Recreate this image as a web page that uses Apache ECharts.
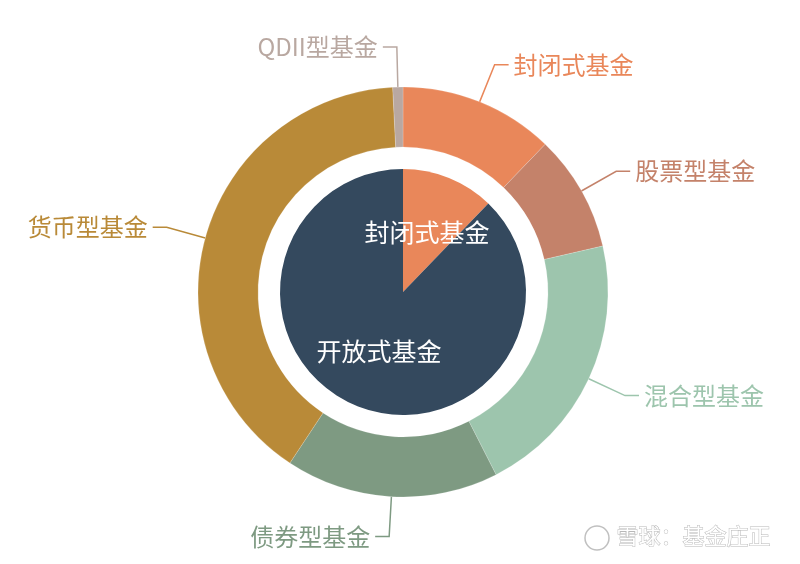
<!DOCTYPE html>
<html>
<head>
<meta charset="utf-8">
<script src="https://cdn.jsdelivr.net/npm/echarts@6/dist/echarts.min.js"></script>
<style>
html,body{margin:0;padding:0;background:#fff;}
#main{width:800px;height:564px;}
</style>
</head>
<body>
<div id="main"></div>
<script>
var innerNames = ['封闭式基金', '开放式基金'];
var innerValues = [12.2, 87.8];
var innerColors = ['#e9875a', '#34495e'];

var outerNames = ['封闭式基金', '股票型基金', '混合型基金', '债券型基金', '货币型基金', 'QDII型基金'];
var outerValues = [12.2, 9.2, 21.1, 16.8, 39.9, 0.8];
var outerColors = ['#e9875a', '#c4826a', '#9dc5ad', '#7e9a82', '#b98a38', '#b9a8a1'];

var watermark = '雪球：基金庄正';

var chart = echarts.init(document.getElementById('main'));
var font = '"Noto Sans CJK SC", "Noto Sans", sans-serif';

chart.setOption({
  backgroundColor: '#ffffff',
  animation: false,
  series: [
    {
      type: 'pie',
      center: [403, 292],
      radius: [0, 123],
      startAngle: 90,
      clockwise: true,
      silent: true,
      label: {
        position: 'inner',
        color: '#ffffff',
        fontSize: 25,
        fontFamily: font
      },
      labelLine: { show: false },
      data: innerNames.map(function (n, i) {
        return { name: n, value: innerValues[i], itemStyle: { color: innerColors[i] } };
      })
    },
    {
      type: 'pie',
      center: [403, 292],
      radius: [145, 205],
      startAngle: 90,
      clockwise: true,
      silent: true,
      avoidLabelOverlap: true,
      itemStyle: { borderColor: 'rgba(255,255,255,0.35)', borderWidth: 0.5 },
      label: {
        fontSize: 24,
        fontFamily: font,
        distanceToLabelLine: 5
      },
      labelLine: {
        length: 40,
        length2: 14,
        lineStyle: { width: 1.5 }
      },
      data: outerNames.map(function (n, i) {
        return {
          name: n, value: outerValues[i],
          itemStyle: { color: outerColors[i] },
          label: { color: outerColors[i] },
          labelLine: { lineStyle: { color: outerColors[i] } }
        };
      })
    }
  ],
  graphic: [
    {
      type: 'circle',
      shape: { cx: 597, cy: 538, r: 12 },
      style: { fill: '#fff', stroke: '#c0c0c0', lineWidth: 1.5 }
    },
    {
      type: 'text',
      left: 616, top: 524,
      style: { text: watermark, fill: '#fff', stroke: '#b8b8b8', lineWidth: 1, font: '22px ' + font }
    }
  ]
});
</script>
</body>
</html>
